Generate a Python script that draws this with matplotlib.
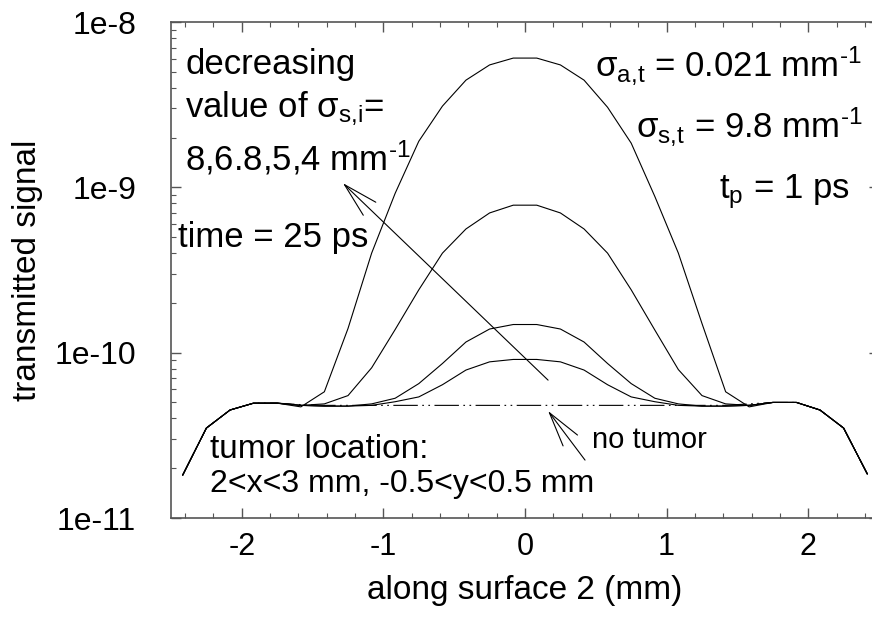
import matplotlib
matplotlib.use("Agg")
import matplotlib.pyplot as plt
from matplotlib.ticker import MultipleLocator, LogLocator, FixedLocator, FixedFormatter, NullFormatter

plt.rcParams['font.family'] = ['Liberation Sans', 'DejaVu Sans']
plt.rcParams['mathtext.fontset'] = 'custom'
plt.rcParams['mathtext.rm'] = 'Liberation Sans'
plt.rcParams['mathtext.it'] = 'Liberation Sans'
plt.rcParams['axes.unicode_minus'] = False

# positions along surface 2 (mm)
x = [-2.417, -2.25, -2.083, -1.917, -1.75, -1.583, -1.417, -1.25, -1.083, -0.917,
     -0.75, -0.583, -0.417, -0.25, -0.083, 0.083, 0.25, 0.417, 0.583, 0.75,
     0.917, 1.083, 1.25, 1.417, 1.583, 1.75, 1.917, 2.083, 2.25, 2.417]

no_tumor = [1.82e-11, 3.5e-11, 4.5e-11, 4.95e-11, 4.95e-11, 4.85e-11, 4.8e-11, 4.8e-11, 4.8e-11, 4.8e-11,
            4.8e-11, 4.8e-11, 4.8e-11, 4.8e-11, 4.8e-11, 4.8e-11, 4.8e-11, 4.8e-11, 4.8e-11, 4.8e-11,
            4.8e-11, 4.8e-11, 4.8e-11, 4.8e-11, 4.9e-11, 5.0e-11, 5.0e-11, 4.5e-11, 3.5e-11, 1.85e-11]

# sigma_s,i = 8
sig8 = [1.82e-11, 3.5e-11, 4.5e-11, 4.95e-11, 4.95e-11, 4.7e-11, 5.8e-11, 1.4e-10, 4.0e-10, 9.2e-10,
        1.9e-9, 3.1e-9, 4.45e-9, 5.5e-9, 6.05e-9, 6.05e-9, 5.5e-9, 4.45e-9, 3.05e-9, 1.85e-9,
        8.8e-10, 4.0e-10, 1.5e-10, 5.8e-11, 4.7e-11, 5.0e-11, 5.0e-11, 4.5e-11, 3.5e-11, 1.85e-11]
# sigma_s,i = 6.8
sig68 = [1.82e-11, 3.5e-11, 4.5e-11, 4.95e-11, 4.95e-11, 4.8e-11, 4.9e-11, 5.5e-11, 8.1e-11, 1.38e-10,
         2.4e-10, 4.0e-10, 5.6e-10, 7.0e-10, 7.8e-10, 7.8e-10, 7.0e-10, 5.6e-10, 4.0e-10, 2.4e-10,
         1.37e-10, 7.9e-11, 5.5e-11, 4.9e-11, 4.8e-11, 5.0e-11, 5.0e-11, 4.5e-11, 3.5e-11, 1.85e-11]
# sigma_s,i = 5
sig5 = [1.82e-11, 3.5e-11, 4.5e-11, 4.95e-11, 4.95e-11, 4.8e-11, 4.75e-11, 4.75e-11, 4.9e-11, 5.3e-11,
        6.5e-11, 8.6e-11, 1.16e-10, 1.39e-10, 1.48e-10, 1.48e-10, 1.39e-10, 1.16e-10, 8.6e-11, 6.5e-11,
        5.3e-11, 4.9e-11, 4.75e-11, 4.75e-11, 4.8e-11, 5.0e-11, 5.0e-11, 4.5e-11, 3.5e-11, 1.85e-11]
# sigma_s,i = 4
sig4 = [1.82e-11, 3.5e-11, 4.5e-11, 4.95e-11, 4.95e-11, 4.8e-11, 4.75e-11, 4.75e-11, 4.8e-11, 5.05e-11,
        5.4e-11, 6.4e-11, 7.85e-11, 8.8e-11, 9.1e-11, 9.1e-11, 8.8e-11, 7.85e-11, 6.4e-11, 5.4e-11,
        5.05e-11, 4.8e-11, 4.75e-11, 4.75e-11, 4.8e-11, 5.0e-11, 5.0e-11, 4.5e-11, 3.5e-11, 1.85e-11]

ytick_vals = [1e-11, 1e-10, 1e-9, 1e-8]
ytick_labels = ['1e-11', '1e-10', '1e-9', '1e-8']

fig = plt.figure(figsize=(8.72, 6.31), dpi=100)
ax = fig.add_axes([171/872, 1-518/631, 708/872, 496/631])

lw = 0.8
ax.plot(x, no_tumor, color='black', lw=lw, dashes=(22, 4, 1.5, 4, 1.5, 4))
for ys in (sig8, sig68, sig5, sig4):
    ax.plot(x, ys, color='black', lw=lw)

ax.set_yscale('log')
ax.set_xlim(-2.5, 2.5)
ax.set_ylim(1e-11, 1e-8)

ax.xaxis.set_major_locator(MultipleLocator(1))
ax.xaxis.set_minor_locator(MultipleLocator(0.2))
ax.yaxis.set_major_locator(FixedLocator(ytick_vals))
ax.yaxis.set_major_formatter(FixedFormatter(ytick_labels))
ax.yaxis.set_minor_locator(LogLocator(base=10, subs=range(2, 10)))
ax.yaxis.set_minor_formatter(NullFormatter())

spine_col = '#555555'
for s in ax.spines.values():
    s.set_color(spine_col)
    s.set_linewidth(1.2)
ax.tick_params(which='both', direction='in', top=True, right=True, color=spine_col)
ax.tick_params(which='major', length=7, width=1.0)
ax.tick_params(which='minor', length=3.5, width=0.8)
ax.tick_params(axis='y', pad=25, labelsize=23)
ax.tick_params(axis='x', pad=10, labelsize=22)

ax.set_xlabel('along surface 2 (mm)', fontsize=24, va='center')
ax.xaxis.set_label_coords(0.5, (518-590)/496)
ax.set_ylabel('transmitted signal', fontsize=24, va='center', ha='center')
ax.yaxis.set_label_coords((28-171)/708, 0.5)

fs = 25
tr = ax.transAxes
ax.text(0.0198, 0.895, 'decreasing', fontsize=fs, transform=tr)
ax.text(0.0198, 0.808, r'value of σ$_{\mathrm{s{,}i}}$=', fontsize=fs, transform=tr)
ax.text(0.0198, 0.702, r'8,6.8,5,4 mm$^{\text{-1}}$', fontsize=fs, transform=tr)
ax.text(0.0099, 0.546, 'time = 25 ps', fontsize=fs, transform=tr)
ax.text(0.976, 0.891, r'σ$_{\mathrm{a{,}t}}$ = 0.021 mm$^{\text{-1}}$', fontsize=fs, ha='right', transform=tr)
ax.text(0.977, 0.768, r'σ$_{\mathrm{s{,}t}}$ = 9.8 mm$^{\text{-1}}$', fontsize=fs, ha='right', transform=tr)
ax.text(0.959, 0.645, r't$_{\mathrm{p}}$ = 1 ps', fontsize=fs, ha='right', transform=tr)
ax.text(0.055, 0.12, 'tumor location:', fontsize=24, transform=tr)
ax.text(0.055, 0.052, '2<x<3 mm, -0.5<y<0.5 mm', fontsize=23, transform=tr)
ax.text(0.595, 0.141, 'no tumor', fontsize=21, transform=tr)

arrow = dict(arrowstyle='->,head_length=2.5,head_width=0.65', lw=0.8, color='black',
             shrinkA=0, shrinkB=0, mutation_scale=10)
ax.annotate('', xy=(-1.286, 1.06e-9), xytext=(0.163, 6.82e-11), arrowprops=arrow)
ax.annotate('', xy=(0.163, 4.44e-11), xytext=(0.424, 2.24e-11), arrowprops=arrow)

fig.savefig('out.png', dpi=100)
